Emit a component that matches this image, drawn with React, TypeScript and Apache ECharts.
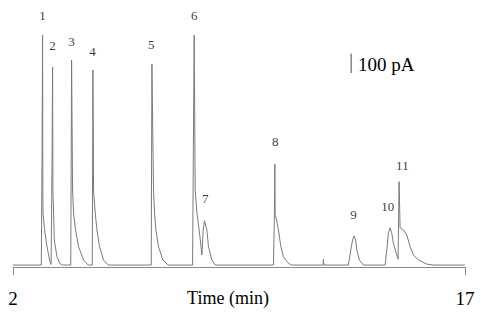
import React, { useEffect, useRef } from "react";
import * as echarts from "echarts";

// Chromatogram trace: retention time (min) and detector signal (pA)
const traceTime: number[] = [
  2.0, 2.939, 2.965, 2.982, 2.99, 2.995, 3.048, 3.128, 3.214, 3.265,
  3.27, 3.295, 3.313, 3.325, 3.347, 3.37, 3.459, 3.55, 3.625,
  3.917, 3.93, 3.944, 3.977, 4.01, 4.076, 4.176, 4.342, 4.497,
  4.63, 4.642, 4.653, 4.673, 4.73, 4.786, 4.872, 5.005, 5.161,
  6.587, 6.598, 6.61, 6.663, 6.697, 6.743, 6.829, 6.975, 7.151,
  7.96, 7.985, 8.013, 8.046, 8.103, 8.179, 8.269, 8.312, 8.355, 8.434, 8.487, 8.6, 8.71,
  10.643, 10.675, 10.69, 10.7, 10.723, 10.809, 10.889, 10.975, 11.141, 11.253,
  12.29, 12.302, 12.315,
  13.131, 13.21, 13.27, 13.32, 13.37, 13.41, 13.496, 13.629,
  14.348, 14.405, 14.458, 14.514, 14.57, 14.623, 14.779, 14.813, 14.846, 14.955,
  15.068, 15.177, 15.287, 15.452, 15.731, 15.94, 17.0,
];
const traceSignal: number[] = [
  10, 10, 600, 1196, 397, 278, 191, 105, 36, 13,
  13, 520, 1031, 390, 278, 139, 53, 19, 10,
  10, 520, 1067, 397, 278, 191, 105, 36, 10,
  10, 510, 1016, 397, 278, 191, 105, 36, 10,
  10, 520, 1046, 397, 278, 191, 105, 36, 10,
  10, 600, 1196, 397, 278, 191, 62, 191, 239, 191, 105, 36, 10,
  10, 270, 531, 265, 259, 191, 105, 53, 19, 10,
  10, 40, 10,
  10, 88, 139, 160, 139, 88, 36, 10,
  10, 88, 175, 203, 175, 122, 40, 440, 203, 191,
  165, 105, 62, 36, 15, 10, 10,
];

// Peak numbers and where their labels sit (time, pA)
const peakNames: string[] = ["1", "2", "3", "4", "5", "6", "7", "8", "9", "10", "11"];
const peakLabelTime: number[] = [2.982, 3.313, 3.944, 4.64, 6.587, 8.013, 8.378, 10.7, 13.297, 14.438, 14.922];
const peakLabelSignal: number[] = [1299, 1144, 1165, 1113, 1147, 1299, 354, 646, 272, 314, 521];

// Scale bar: 100 pA
const scaleBarTime = 13.22;
const scaleBarSignal: number[] = [1000, 1100];
const scaleBarText = "100 pA";

const xTicks: number[] = [2, 17];
const xName = "Time (min)";

const FONT = "Liberation Serif";

export default function App() {
  const ref = useRef<HTMLDivElement>(null);
  useEffect(() => {
    if (!ref.current) return;
    const chart = echarts.init(ref.current, undefined, { renderer: "svg" });
    const trace = traceTime.map((t, i) => [t, traceSignal[i]]);
    const labels = peakNames.map((n, i) => ({ name: n, value: [peakLabelTime[i], peakLabelSignal[i]] }));
    chart.setOption({
      animation: false,
      backgroundColor: "#fff",
      textStyle: { fontFamily: FONT },
      grid: { left: 13, right: 16, top: 10, bottom: 47, outerBoundsMode: "none", containLabel: false },
      xAxis: {
        type: "value",
        min: 2,
        max: 17,
        splitLine: { show: false },
        axisLine: { show: true, lineStyle: { color: "#8a8a8a", width: 1 } },
        axisTick: { show: true, length: 8, inside: false, customValues: xTicks, lineStyle: { color: "#8a8a8a" } },
        axisLabel: {
          show: true,
          customValues: xTicks,
          margin: 22,
          fontSize: 19,
          fontFamily: FONT,
          color: "#000",
        },
      },
      yAxis: {
        type: "value",
        min: 0,
        max: 1325,
        show: false,
        splitLine: { show: false },
      },
      graphic: [
        {
          type: "text",
          x: 228,
          y: 298,
          style: { text: xName, font: "18px " + FONT, fontSize: 18, fontFamily: FONT, fill: "#000", align: "center", verticalAlign: "middle" },
        },
        {
          type: "text",
          x: 358,
          y: 64,
          style: { text: scaleBarText, font: "19px " + FONT, fontSize: 19, fontFamily: FONT, fill: "#000", align: "left", verticalAlign: "middle" },
        },
      ],
      series: [
        {
          type: "line",
          data: trace,
          showSymbol: false,
          symbol: "none",
          lineStyle: { color: "#7a7a7a", width: 1 },
          z: 2,
        },
        {
          type: "line",
          data: scaleBarSignal.map((v) => [scaleBarTime, v]),
          showSymbol: false,
          symbol: "none",
          lineStyle: { color: "#444", width: 1 },
        },
        {
          type: "scatter",
          data: labels,
          symbolSize: 0,
          itemStyle: { color: "#000" },
          label: {
            show: true,
            position: "inside",
            formatter: (p: any) => p.name,
            fontSize: 13,
            fontFamily: FONT,
            color: "#000",
          },
          z: 3,
        },
      ],
    });
    return () => chart.dispose();
  }, []);
  return <div ref={ref} style={{ position: "fixed", left: 0, top: 0, width: 481, height: 314 }} />;
}
